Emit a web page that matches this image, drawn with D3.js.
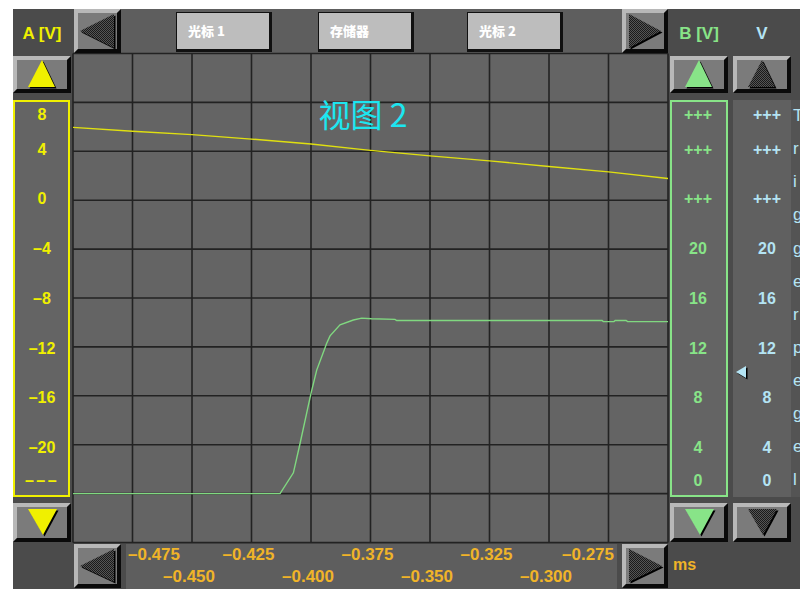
<!DOCTYPE html>
<html>
<head>
<meta charset="utf-8">
<script src="https://cdn.jsdelivr.net/npm/d3@7"></script>
<style>
  html, body { margin: 0; padding: 0; background: #ffffff; }
  svg { display: block; }
  text { font-family: "Liberation Sans", Arial, sans-serif; font-weight: bold; }
</style>
</head>
<body>
<svg id="scope" width="800" height="589"></svg>
<script>
// ---- data ----
const timeTicks = [-0.475, -0.450, -0.425, -0.400, -0.375, -0.350, -0.325, -0.300, -0.275];
const timeTickLabels = ["–0.475", "–0.450", "–0.425", "–0.400", "–0.375", "–0.350", "–0.325", "–0.300", "–0.275"];

const aTicks = [8, 4, 0, -4, -8, -12, -16, -20, -24];
const aTickLabels = ["8", "4", "0", "–4", "–8", "–12", "–16", "–20", "–––"];
const bTickLabels = ["+++", "+++", "+++", "20", "16", "12", "8", "4", "0"];
const vTickLabels = ["+++", "+++", "+++", "20", "16", "12", "8", "4", "0"];

// channel A (yellow), volts
const aTime  = [-0.500, -0.475, -0.450, -0.425, -0.400, -0.380, -0.375, -0.350, -0.325, -0.300, -0.275, -0.250];
const aVolts = [5.96, 5.64, 5.36, 5.00, 4.60, 4.18, 4.08, 3.63, 3.22, 2.76, 2.32, 1.78];

// channel B (green), volts
const bTime  = [-0.500, -0.413, -0.4074, -0.4046, -0.4018, -0.400, -0.3976, -0.3934, -0.392, -0.3878, -0.3822, -0.3787, -0.3745, -0.3647, -0.364, -0.2777, -0.2772, -0.2727, -0.2722, -0.2676, -0.267, -0.250];
const bVolts = [0.0, 0.0, 1.7, 4.1, 6.6, 8.2, 10.1, 12.3, 12.9, 13.8, 14.2, 14.35, 14.3, 14.25, 14.16, 14.16, 14.07, 14.07, 14.16, 14.16, 14.07, 14.07];

const triggerLevel = 10.05;
const headerButtons = ["光标 1", "存储器", "光标 2"];
const sideWord = "Triggerpegel";

// ---- colours ----
const C = {
  panel: "#4b4b4b", plot: "#646464", band: "#5e5e5e", grid: "#222222",
  yellow: "#f0f000", green: "#88e488", blue: "#b4e4f4", orange: "#f0b428", cyan: "#1ce6f0",
  face: "#7b7b7b", light: "#b8b8b8", dark: "#0a0a0a"
};

const svg = d3.select("#scope");
const defs = svg.append("defs");
const pat = defs.append("pattern").attr("id", "dither").attr("width", 2).attr("height", 2)
  .attr("patternUnits", "userSpaceOnUse");
pat.append("rect").attr("width", 2).attr("height", 2).attr("fill", "#555");
pat.append("rect").attr("width", 1).attr("height", 1).attr("fill", "#1a1a1a");
pat.append("rect").attr("x", 1).attr("y", 1).attr("width", 1).attr("height", 1).attr("fill", "#1a1a1a");

// ---- layout ----
const plot = { x0: 73, x1: 668, y0: 53.5, y1: 542.5 };

const x = d3.scaleLinear().domain([-0.5, -0.25]).range([plot.x0, plot.x1]);
const yA = d3.scaleLinear().domain([-28, 12]).range([plot.y1, plot.y0]);
const yB = d3.scaleLinear().domain([-4, 36]).range([plot.y1, plot.y0]);
// scale labels sit on, kept inside the label boxes
const tickY = d3.scaleLinear().domain([8, -24]).range([99, 497]);
const labelY = v => Math.max(114, Math.min(480, tickY(v)));

// panel background
svg.append("rect").attr("x", 13).attr("y", 9).attr("width", 787).attr("height", 580).attr("fill", C.panel);
// header band
svg.append("rect").attr("x", 120).attr("y", 9).attr("width", 502).attr("height", 44).attr("fill", C.band);
// plot area
svg.append("rect").attr("x", plot.x0).attr("y", plot.y0).attr("width", plot.x1 - plot.x0)
  .attr("height", plot.y1 - plot.y0).attr("fill", C.plot);

// grid
const g = svg.append("g");
d3.range(-0.5, -0.2499, 0.025).forEach(t => {
  g.append("line").attr("x1", x(t)).attr("x2", x(t)).attr("y1", plot.y0).attr("y2", plot.y1)
    .attr("stroke", C.grid).attr("stroke-width", 1.6);
});
d3.range(-28, 12.01, 4).forEach(v => {
  g.append("line").attr("x1", plot.x0).attr("x2", plot.x1).attr("y1", yA(v)).attr("y2", yA(v))
    .attr("stroke", C.grid).attr("stroke-width", 1.6);
});

// traces
defs.append("clipPath").attr("id", "plotClip").append("rect")
  .attr("x", plot.x0).attr("y", plot.y0).attr("width", plot.x1 - plot.x0).attr("height", plot.y1 - plot.y0);
const traces = svg.append("g").attr("clip-path", "url(#plotClip)");
traces.append("path")
  .attr("d", d3.line().x((d, i) => x(aTime[i])).y(d => yA(d))(aVolts))
  .attr("fill", "none").attr("stroke", "#e0e010").attr("stroke-width", 1.4);
traces.append("path")
  .attr("d", d3.line().x((d, i) => x(bTime[i])).y(d => yB(d))(bVolts))
  .attr("fill", "none").attr("stroke", "#80d880").attr("stroke-width", 1.4);

// title
svg.append("text").attr("x", 363).attr("y", 127).attr("text-anchor", "middle")
  .style("font-family", "'Noto Sans CJK SC', sans-serif").style("font-weight", "normal")
  .attr("font-size", 32).attr("fill", C.cyan).text("视图 2");

// ---- buttons ----
function bevel(x0, y0, w, h, b) {
  const grp = svg.append("g");
  grp.append("rect").attr("x", x0).attr("y", y0).attr("width", w).attr("height", h).attr("fill", C.face);
  grp.append("polygon").attr("points", [[x0, y0], [x0 + w, y0], [x0 + w - b, y0 + b], [x0 + b, y0 + b], [x0 + b, y0 + h - b], [x0, y0 + h]].join(" "))
    .attr("fill", C.light);
  grp.append("polygon").attr("points", [[x0 + w, y0], [x0 + w, y0 + h], [x0, y0 + h], [x0 + b, y0 + h - b], [x0 + w - b, y0 + h - b], [x0 + w - b, y0 + b]].join(" "))
    .attr("fill", C.dark);
  return grp;
}
function tri(grp, pts, fill) {
  grp.append("polygon").attr("points", pts.map(p => [p[0] + 1.5, p[1] + 1.5]).join(" ")).attr("fill", "#000");
  grp.append("polygon").attr("points", pts.join(" ")).attr("fill", fill);
}

// time arrows
tri(bevel(74, 9, 47, 44, 4), [[80, 31], [114, 14], [114, 48]], "url(#dither)");
tri(bevel(622, 9, 46, 44, 4), [[661, 31], [629, 14], [629, 48]], "url(#dither)");
tri(bevel(74, 544, 47, 44, 4), [[80, 566], [114, 549], [114, 582]], "url(#dither)");
tri(bevel(622, 544, 46, 44, 4), [[662, 566], [629, 549], [629, 582]], "url(#dither)");

// up / down
tri(bevel(13, 56, 58, 37, 4), [[42, 60], [28, 87], [55, 87]], C.yellow);
tri(bevel(670, 56, 58, 37, 4), [[699, 60], [685, 87], [712, 87]], C.green);
tri(bevel(733, 56, 58, 37, 4), [[762, 60], [748, 87], [775, 87]], "url(#dither)");
tri(bevel(13, 503, 58, 39, 4), [[28, 509], [57, 509], [43, 535]], C.yellow);
tri(bevel(670, 503, 58, 39, 4), [[685, 509], [714, 509], [700, 535]], C.green);
tri(bevel(733, 503, 58, 39, 4), [[748, 509], [777, 509], [763, 535]], "url(#dither)");

// header text buttons
const hbX = [176, 318, 467];
headerButtons.forEach((label, i) => {
  const bx = hbX[i], by = 12, bw = 96, bh = 40;
  svg.append("rect").attr("x", bx).attr("y", by).attr("width", bw).attr("height", bh).attr("fill", "#111");
  svg.append("rect").attr("x", bx + 1).attr("y", by + 1).attr("width", bw - 4).attr("height", bh - 4).attr("fill", "#bdbdbd");
  svg.append("text").attr("x", bx + 12).attr("y", by + 24).attr("font-size", 13).attr("fill", "#ffffff")
    .style("font-family", "'Noto Sans CJK SC', sans-serif").style("font-weight", "900").text(label);
});

// channel headings
svg.append("text").attr("x", 42).attr("y", 39).attr("text-anchor", "middle").attr("font-size", 17).attr("fill", C.yellow).text("A [V]");
svg.append("text").attr("x", 699).attr("y", 39).attr("text-anchor", "middle").attr("font-size", 17).attr("fill", C.green).text("B [V]");
svg.append("text").attr("x", 762).attr("y", 39).attr("text-anchor", "middle").attr("font-size", 17).attr("fill", C.blue).text("V");

// ---- vertical scales ----
svg.append("rect").attr("x", 14).attr("y", 101).attr("width", 55).attr("height", 395)
  .attr("fill", C.plot).attr("stroke", C.yellow).attr("stroke-width", 2);
svg.append("rect").attr("x", 671).attr("y", 101).attr("width", 56).attr("height", 395)
  .attr("fill", C.plot).attr("stroke", C.green).attr("stroke-width", 2);
svg.append("rect").attr("x", 733).attr("y", 100).attr("width", 58).attr("height", 397).attr("fill", "#606060");
svg.append("rect").attr("x", 791).attr("y", 100).attr("width", 9).attr("height", 397).attr("fill", "#545454");

function scaleLabels(labels, cx, color) {
  svg.append("g").selectAll("text").data(aTicks).join("text")
    .attr("x", cx).attr("y", d => labelY(d)).attr("dy", "0.36em")
    .attr("text-anchor", "middle").attr("font-size", 16).attr("fill", color)
    .attr("letter-spacing", (d, i) => labels[i] === "–––" ? 2.5 : 0)
    .text((d, i) => labels[i]);
}
scaleLabels(aTickLabels, 42, C.yellow);
scaleLabels(bTickLabels, 698, C.green);
scaleLabels(vTickLabels, 767, C.blue);

// trigger level marker on the V scale
const ty = tickY(triggerLevel - 24);
svg.append("polygon").attr("points", [[737.5, ty + 1.5], [747.5, ty - 4.5], [747.5, ty + 7.5]].join(" ")).attr("fill", "#000");
svg.append("polygon").attr("points", [[736, ty], [746, ty - 6], [746, ty + 6]].join(" ")).attr("fill", C.blue);

// vertical caption, running off the panel edge
sideWord.split("").forEach((ch, i) => {
  svg.append("text").attr("x", 793).attr("y", 115 + i * 33.1).attr("dy", "0.36em")
    .attr("font-size", 17).style("font-weight", "normal").attr("fill", C.blue).text(ch);
});

// ---- time axis ----
svg.append("rect").attr("x", 126).attr("y", 544).attr("width", 491).attr("height", 45).attr("fill", "#5e5e5e");
const tl = svg.append("g").selectAll("text").data(timeTicks).join("text")
  .attr("y", (d, i) => i % 2 === 0 ? 554 : 576).attr("dy", "0.36em")
  .attr("text-anchor", "middle").attr("font-size", 17).attr("fill", C.orange)
  .text((d, i) => timeTickLabels[i]);
tl.each(function (d) {
  const w = this.getComputedTextLength();
  const cx = Math.max(128 + w / 2, Math.min(614 - w / 2, x(d) - 3));
  d3.select(this).attr("x", cx);
});
svg.append("text").attr("x", 673).attr("y", 564).attr("dy", "0.36em").attr("font-size", 16)
  .attr("fill", C.orange).text("ms");
</script>
</body>
</html>
